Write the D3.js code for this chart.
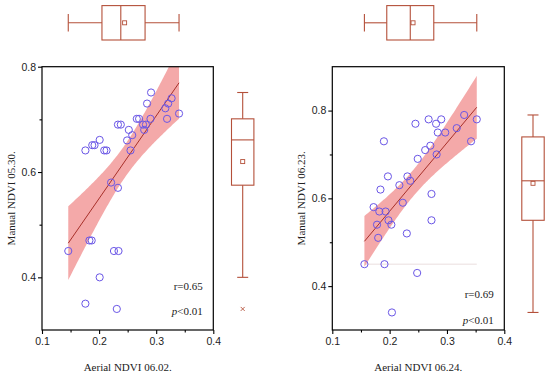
<!DOCTYPE html>
<html><head><meta charset="utf-8">
<script src="https://cdn.jsdelivr.net/npm/d3@7"></script>
<style>body{margin:0;background:#fff}svg{display:block;font-family:"Liberation Serif","Times New Roman",serif}</style>
</head><body><svg id="c" width="550" height="377"></svg>
<script>
// ---- data ----
const aerial0602 = [0.291,0.284,0.327,0.321,0.316,0.340,0.319,0.290,0.270,0.266,0.282,0.277,0.279,0.238,0.233,0.252,0.258,0.249,0.255,0.201,0.192,0.188,0.176,0.209,0.213,0.221,0.233,0.146,0.183,0.187,0.226,0.234,0.201,0.176,0.231];
const manual0530 = [0.751,0.730,0.740,0.730,0.721,0.711,0.701,0.701,0.701,0.701,0.690,0.690,0.680,0.690,0.690,0.680,0.670,0.660,0.641,0.661,0.651,0.651,0.641,0.641,0.641,0.580,0.570,0.450,0.470,0.470,0.450,0.450,0.400,0.350,0.340];
const aerial0624 = [0.330,0.352,0.268,0.290,0.281,0.245,0.284,0.297,0.317,0.342,0.190,0.271,0.262,0.282,0.249,0.197,0.231,0.217,0.236,0.184,0.273,0.223,0.172,0.182,0.193,0.198,0.273,0.178,0.203,0.230,0.180,0.156,0.191,0.248,0.204];
const manual0623 = [0.79,0.78,0.78,0.78,0.77,0.77,0.75,0.75,0.76,0.73,0.73,0.72,0.71,0.70,0.69,0.65,0.65,0.63,0.64,0.62,0.61,0.59,0.58,0.57,0.57,0.55,0.55,0.54,0.54,0.52,0.51,0.45,0.45,0.43,0.34];
const xTicks = [0.1,0.2,0.3,0.4];
const xMinor = [0.15,0.25,0.35];
const yTicks = [0.4,0.6,0.8];
const yMinor = [0.5,0.7];
const panels = [
  {x: aerial0602, y: manual0530, xLabel: "Aerial NDVI 06.02.", yLabel: "Manual NDVI 05.30.", r: "r=0.65", yDomain: [0.3,0.8], refLine: null},
  {x: aerial0624, y: manual0623, xLabel: "Aerial NDVI 06.24.", yLabel: "Manual NDVI 06.23.", r: "r=0.69", yDomain: [0.3,0.9], refLine: 0.45}
];
// ---- layout ----
const layout = [
  {x0: 42, x1: 213.3, top: 66.7, bottom: 330, vbox: 242.7},
  {x0: 332.3, x1: 504.3, top: 66.7, bottom: 330, vbox: 533}
];
const svg = d3.select("#c");
const BOX = "#b4503a", LINE = "#a8302a", PT = "#6a56e6", BAND = "#f29a9a";

function stats(v){
  const s = v.slice().sort(d3.ascending);
  const q1 = d3.quantile(s,0.25), q2 = d3.quantile(s,0.5), q3 = d3.quantile(s,0.75);
  const iqr = q3-q1;
  const lo = s.find(d => d >= q1-1.5*iqr), hi = s.slice().reverse().find(d => d <= q3+1.5*iqr);
  return {q1,q2,q3,lo,hi,mean:d3.mean(s),min:s[0],max:s[s.length-1]};
}

panels.forEach((p,i) => {
  const L = layout[i];
  const x = d3.scaleLinear().domain([0.1,0.4]).range([L.x0,L.x1]);
  const y = d3.scaleLinear().domain(p.yDomain).range([L.bottom,L.top]);
  const g = svg.append("g");
  const cid = "clip"+i;
  svg.append("clipPath").attr("id",cid).append("rect").attr("x",L.x0).attr("y",L.top).attr("width",L.x1-L.x0).attr("height",L.bottom-L.top);
  // regression
  const n = p.x.length, mx = d3.mean(p.x), my = d3.mean(p.y);
  let sxx=0,sxy=0; p.x.forEach((xv,k)=>{sxx+=(xv-mx)**2; sxy+=(xv-mx)*(p.y[k]-my);});
  const b = sxy/sxx, a = my - b*mx;
  let sse=0; p.x.forEach((xv,k)=>{sse+=(p.y[k]-(a+b*xv))**2;});
  const s = Math.sqrt(sse/(n-2)), t = 2.035;
  const [xmin,xmax] = d3.extent(p.x);
  const xs = d3.range(0,101).map(k => xmin + (xmax-xmin)*k/100);
  const band = xs.map(xv => {const yh=a+b*xv, se=s*Math.sqrt(1/n+(xv-mx)**2/sxx); return {x:xv, lo:yh-t*se, hi:yh+t*se};});
  const pg = g.append("g").attr("clip-path",`url(#${cid})`);
  if (p.refLine !== null) {
    pg.append("line").attr("x1",x(xmin)).attr("x2",x(xmax)).attr("y1",y(p.refLine)).attr("y2",y(p.refLine)).attr("stroke","#eadede").attr("stroke-width",1);
  }
  pg.append("path").datum(band).attr("fill",BAND).attr("fill-opacity",0.85)
    .attr("d", d3.area().x(d=>x(d.x)).y0(d=>y(d.lo)).y1(d=>y(d.hi)));
  pg.append("line").attr("x1",x(xmin)).attr("x2",x(xmax)).attr("y1",y(a+b*xmin)).attr("y2",y(a+b*xmax)).attr("stroke",LINE).attr("stroke-width",1);
  pg.selectAll("circle").data(p.x.map((xv,k)=>[xv,p.y[k]])).join("circle")
    .attr("cx",d=>x(d[0])).attr("cy",d=>y(d[1])).attr("r",3.6).attr("fill","none").attr("stroke",PT).attr("stroke-width",1);
  // frame
  g.append("rect").attr("x",L.x0).attr("y",L.top).attr("width",L.x1-L.x0).attr("height",L.bottom-L.top).attr("fill","none").attr("stroke","#000").attr("stroke-width",1.2);
  // axes
  const ax = g.append("g").attr("transform",`translate(0,${L.bottom})`).call(d3.axisBottom(x).tickValues(xTicks).tickSize(4).tickFormat(d3.format(".1f")));
  g.append("g").attr("transform",`translate(0,${L.bottom})`).call(d3.axisBottom(x).tickValues(xMinor).tickSize(2.5).tickFormat(""));
  const ay = g.append("g").attr("transform",`translate(${L.x0},0)`).call(d3.axisLeft(y).tickValues(yTicks).tickSize(4).tickFormat(d3.format(".1f")));
  g.append("g").attr("transform",`translate(${L.x0},0)`).call(d3.axisLeft(y).tickValues(yMinor).tickSize(2.5).tickFormat(""));
  g.selectAll(".domain").remove();
  g.selectAll(".tick line").attr("stroke","#000").attr("stroke-width",1.1);
  ax.selectAll("text").attr("font-size",10.5).attr("fill","#222").attr("dy","0.9em").attr("y",6);
  ay.selectAll("text").attr("font-size",10.5).attr("fill","#222").attr("x",-6);
  // labels
  g.append("text").attr("x",(L.x0+L.x1)/2).attr("y",371).attr("text-anchor","middle").attr("font-size",11).attr("fill","#222").text(p.xLabel);
  g.append("text").attr("transform",`translate(${L.x0-27},${(L.top+L.bottom)/2}) rotate(-90)`).attr("text-anchor","middle").attr("font-size",11).attr("fill","#222").text(p.yLabel);
  const rb = i===0 ? [290,315] : [298,324];
  g.append("text").attr("x",L.x1-10.5).attr("y",rb[0]).attr("text-anchor","end").attr("font-size",11).attr("fill","#222").text(p.r);
  const pt = g.append("text").attr("x",L.x1-10.5).attr("y",rb[1]).attr("text-anchor","end").attr("font-size",11).attr("fill","#222");
  pt.append("tspan").attr("font-style","italic").text("p");
  pt.append("tspan").text("<0.01");
  // top horizontal boxplot (x data)
  const sx = stats(p.x), cy = 22.8, hh = 17.2, ch = 8.8;
  const tb = svg.append("g").attr("stroke",BOX).attr("stroke-width",1.1).attr("fill","none");
  tb.append("line").attr("x1",x(sx.lo)).attr("x2",x(sx.q1)).attr("y1",cy).attr("y2",cy);
  tb.append("line").attr("x1",x(sx.q3)).attr("x2",x(sx.hi)).attr("y1",cy).attr("y2",cy);
  tb.append("line").attr("x1",x(sx.lo)).attr("x2",x(sx.lo)).attr("y1",cy-ch).attr("y2",cy+ch);
  tb.append("line").attr("x1",x(sx.hi)).attr("x2",x(sx.hi)).attr("y1",cy-ch).attr("y2",cy+ch);
  tb.append("rect").attr("x",x(sx.q1)).attr("y",cy-hh).attr("width",x(sx.q3)-x(sx.q1)).attr("height",2*hh);
  tb.append("line").attr("x1",x(sx.q2)).attr("x2",x(sx.q2)).attr("y1",cy-hh).attr("y2",cy+hh);
  tb.append("rect").attr("x",x(sx.mean)-2).attr("y",cy-2).attr("width",4).attr("height",4).attr("stroke-width",0.9);
  // right vertical boxplot (y data)
  const sy = stats(p.y), cx = L.vbox, hw = 11.2, cw = 5.5;
  const rbx = svg.append("g").attr("stroke",BOX).attr("stroke-width",1.1).attr("fill","none");
  rbx.append("line").attr("x1",cx).attr("x2",cx).attr("y1",y(sy.lo)).attr("y2",y(sy.q1));
  rbx.append("line").attr("x1",cx).attr("x2",cx).attr("y1",y(sy.q3)).attr("y2",y(sy.hi));
  rbx.append("line").attr("x1",cx-cw).attr("x2",cx+cw).attr("y1",y(sy.lo)).attr("y2",y(sy.lo));
  rbx.append("line").attr("x1",cx-cw).attr("x2",cx+cw).attr("y1",y(sy.hi)).attr("y2",y(sy.hi));
  rbx.append("rect").attr("x",cx-hw).attr("y",y(sy.q3)).attr("width",2*hw).attr("height",y(sy.q1)-y(sy.q3));
  rbx.append("line").attr("x1",cx-hw).attr("x2",cx+hw).attr("y1",y(sy.q2)).attr("y2",y(sy.q2));
  rbx.append("rect").attr("x",cx-2).attr("y",y(sy.mean)-2).attr("width",4).attr("height",4).attr("stroke-width",0.9);
  if (sy.min < sy.lo) {
    const my2 = y(sy.min);
    rbx.append("path").attr("d",`M${cx-2},${my2-2}L${cx+2},${my2+2}M${cx-2},${my2+2}L${cx+2},${my2-2}`).attr("stroke-width",0.9);
  }
});
</script></body></html>
